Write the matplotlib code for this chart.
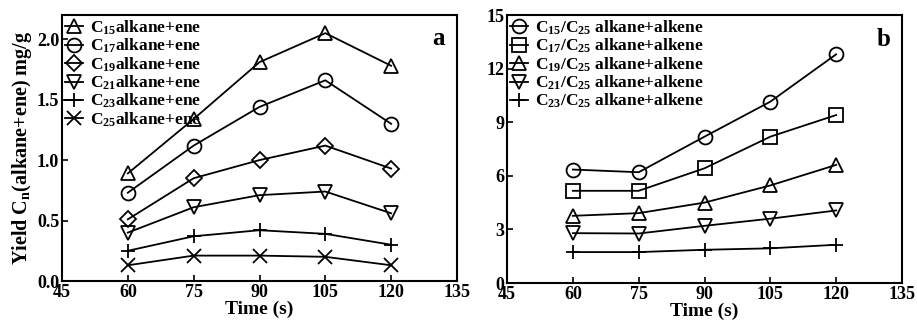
import matplotlib
matplotlib.use('Agg')
import matplotlib.pyplot as plt

plt.rcParams['font.family'] = 'Liberation Serif'
plt.rcParams['font.weight'] = 'bold'
plt.rcParams['mathtext.default'] = 'regular'
plt.rcParams['axes.linewidth'] = 1.5

# Tempo de reação (s)
tempo = [60, 75, 90, 105, 120]

# Rendimento de alcanos + alcenos (mg/g)
c15 = [0.89, 1.34, 1.81, 2.05, 1.78]
c17 = [0.73, 1.12, 1.44, 1.66, 1.30]
c19 = [0.51, 0.85, 1.00, 1.12, 0.93]
c21 = [0.40, 0.61, 0.71, 0.74, 0.56]
c23 = [0.25, 0.37, 0.42, 0.39, 0.30]
c25 = [0.13, 0.21, 0.21, 0.20, 0.13]

# Razões em relação ao C25
r15 = [6.35, 6.20, 8.19, 10.15, 12.80]
r17 = [5.16, 5.16, 6.42, 8.19, 9.40]
r19 = [3.76, 3.91, 4.50, 5.46, 6.61]
r21 = [2.79, 2.77, 3.20, 3.60, 4.06]
r23 = [1.73, 1.73, 1.86, 1.94, 2.14]

fig = plt.figure(figsize=(9.17, 3.21), dpi=100)
ax1 = fig.add_axes([62/917, 40/321, 395/917, 266/321])
ax2 = fig.add_axes([507/917, 38/321, 395/917, 268/321])

estilo = dict(color='black', linewidth=1.3, markersize=10, markerfacecolor='none',
              markeredgewidth=1.3)

series_a = [(c15, '^', r'C$_{15}$alkane+ene'),
            (c17, 'o', r'C$_{17}$alkane+ene'),
            (c19, 'D', r'C$_{19}$alkane+ene'),
            (c21, 'v', r'C$_{21}$alkane+ene'),
            (c23, '+', r'C$_{23}$alkane+ene'),
            (c25, 'x', r'C$_{25}$alkane+ene')]
for y, m, lab in series_a:
    kw = dict(estilo)
    if m == 'D':
        kw['markersize'] = 8
    ax1.plot(tempo, y, marker=m, label=lab, **kw)

series_b = [(r15, 'o', r'C$_{15}$/C$_{25}$ alkane+alkene'),
            (r17, 's', r'C$_{17}$/C$_{25}$ alkane+alkene'),
            (r19, '^', r'C$_{19}$/C$_{25}$ alkane+alkene'),
            (r21, 'v', r'C$_{21}$/C$_{25}$ alkane+alkene'),
            (r23, '+', r'C$_{23}$/C$_{25}$ alkane+alkene')]
for y, m, lab in series_b:
    ax2.plot(tempo, y, marker=m, label=lab, **estilo)

for ax in (ax1, ax2):
    ax.set_xlim(45, 135)
    ax.set_xticks([45, 60, 75, 90, 105, 120, 135])
    ax.tick_params(direction='in', length=4, width=1.2, labelsize=13, pad=2)
    ax.set_xlabel('Time (s)', fontsize=14, fontweight='bold', labelpad=0)
    ax.legend(loc='upper left', frameon=False, fontsize=12.5, handlelength=1.0,
              handletextpad=0.4, labelspacing=0.0, borderaxespad=0.1,
              borderpad=0.1)

ax1.set_ylim(0, 2.2)
ax1.set_yticks([0.0, 0.5, 1.0, 1.5, 2.0])
ax1.set_yticklabels(['0.0', '0.5', '1.0', '1.5', '2.0'])
ax1.set_ylabel(r'Yield C$_n$(alkane+ene) mg/g', fontsize=14.5, fontweight='bold',
               labelpad=2)
ax1.text(0.97, 0.91, 'a', transform=ax1.transAxes, fontsize=18,
         fontweight='bold', ha='right', va='center')

ax2.set_ylim(0, 15)
ax2.set_yticks([0, 3, 6, 9, 12, 15])
ax2.text(0.97, 0.91, 'b', transform=ax2.transAxes, fontsize=18,
         fontweight='bold', ha='right', va='center')

fig.savefig('out.png', dpi=100)
